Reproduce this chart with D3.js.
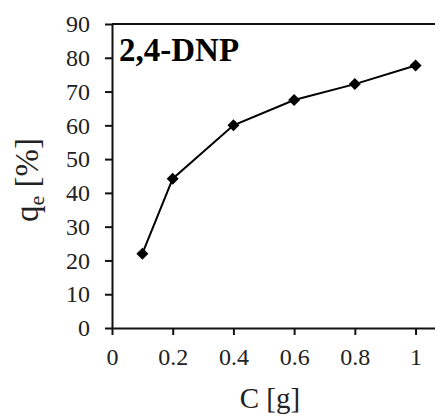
<!DOCTYPE html>
<html><head><meta charset="utf-8">
<script src="https://cdn.jsdelivr.net/npm/d3@7"></script>
<style>
html,body{margin:0;padding:0;background:#fff;}
svg{display:block;}
text{font-family:"Liberation Serif","Times New Roman",serif;}
</style></head>
<body>
<svg id="chart" width="435" height="416"></svg>
<script>
const concentrations = [0.1, 0.2, 0.4, 0.6, 0.8, 1.0];
const qeValues = [22, 44.2, 60, 67.5, 72.2, 77.7];
const xTicks = [0, 0.2, 0.4, 0.6, 0.8, 1];
const yTicks = [0, 10, 20, 30, 40, 50, 60, 70, 80, 90];
const seriesName = "2,4-DNP";
const xTitle = "C [g]";

const svg = d3.select("#chart");
const x = d3.scaleLinear().domain([0, 1.1]).range([112, 445.9]);
const y = d3.scaleLinear().domain([0, 90]).range([328, 24]);

svg.append("line").attr("x1", x(0)).attr("x2", x(1.1)).attr("y1", y(90)).attr("y2", y(90))
  .attr("stroke", "#111").attr("stroke-width", 2);

const xAxis = svg.append("g").attr("transform", `translate(0,${y(0)})`)
  .call(d3.axisBottom(x).tickValues(xTicks).tickSize(7).tickPadding(12)
    .tickFormat(d => d3.format("")(d)).tickSizeOuter(0));
const yAxis = svg.append("g").attr("transform", `translate(${x(0)},0)`)
  .call(d3.axisLeft(y).tickValues(yTicks).tickSize(7).tickPadding(15).tickSizeOuter(0));

[xAxis, yAxis].forEach(g => {
  g.attr("font-family", "'Liberation Serif', serif").attr("font-size", 24);
  g.select(".domain").attr("stroke", "#111").attr("stroke-width", 2);
  g.selectAll(".tick line").attr("stroke", "#111").attr("stroke-width", 2);
  g.selectAll(".tick text").attr("fill", "#222").style("font-size", "24px")
    .style("font-family", "'Liberation Serif', serif");
});
xAxis.selectAll(".tick text").attr("dy", "0.75em");

const line = d3.line().x((d, i) => x(concentrations[i])).y(d => y(d));
svg.append("path").datum(qeValues).attr("d", line)
  .attr("fill", "none").attr("stroke", "#000").attr("stroke-width", 2);

const sym = d3.symbol(d3.symbolSquare, 72);
svg.selectAll(".pt").data(qeValues).enter().append("path")
  .attr("d", sym)
  .attr("transform", (d, i) => `translate(${x(concentrations[i])},${y(d)}) rotate(45)`)
  .attr("fill", "#000");

svg.append("text").attr("x", 119).attr("y", 61)
  .style("font-size", "33px").style("font-weight", "bold").attr("fill", "#000")
  .text(seriesName);

svg.append("text").attr("x", 270).attr("y", 408).attr("text-anchor", "middle")
  .style("font-size", "29px").attr("fill", "#222").text(xTitle);

const yl = svg.append("text").attr("transform", "translate(38,180) rotate(-90)")
  .attr("text-anchor", "middle").style("font-size", "33px").attr("fill", "#222");
yl.append("tspan").text("q");
yl.append("tspan").text("e").style("font-size", "22px").attr("dy", "6");
yl.append("tspan").text(" [%]").attr("dy", "-6");
</script>
</body></html>
